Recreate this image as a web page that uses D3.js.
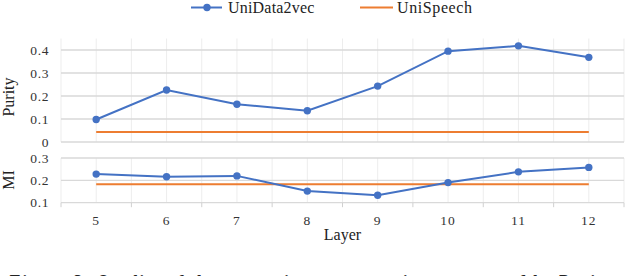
<!DOCTYPE html>
<html><head><meta charset="utf-8">
<script src="https://cdn.jsdelivr.net/npm/d3@7"></script>
<style>html,body{margin:0;padding:0;background:#fff;overflow:hidden}</style>
</head><body>
<svg id="c" width="628" height="276"></svg>
<script>
const layers = [5, 6, 7, 8, 9, 10, 11, 12];
const purityUniData2vec = [0.098, 0.226, 0.164, 0.136, 0.243, 0.395, 0.418, 0.368];
const purityUniSpeech = 0.043;
const miUniData2vec = [0.228, 0.216, 0.220, 0.152, 0.133, 0.190, 0.238, 0.258];
const miUniSpeech = 0.183;
const purityTicks = [0, 0.1, 0.2, 0.3, 0.4];
const miTicks = [0.1, 0.2, 0.3];
const seriesNames = ["UniData2vec", "UniSpeech"];

const BLUE = "#4472C4", ORANGE = "#ED7D31";
const FONT = "Liberation Serif, Times New Roman, serif";
const svg = d3.select("#c");

const x = d3.scaleBand().domain(layers).range([61, 624]);
const cx = d => x(d) + x.bandwidth() / 2;
const yTop = d3.scaleLinear().domain([0, 0.45]).range([142, 38.5]);
const yBot = d3.scaleLinear().domain([0.1, 0.3]).range([202.7, 158]);

function vgrid(y0, y1) {
  const xs = [];
  layers.forEach(d => { xs.push(x(d)); xs.push(cx(d)); });
  xs.push(x.range()[1]);
  svg.append("g").selectAll("line").data(xs).join("line")
    .attr("x1", d => d).attr("x2", d => d).attr("y1", y0).attr("y2", y1)
    .attr("stroke", "#ededed").attr("stroke-width", 1);
}
function hgrid(scale, ticks) {
  svg.append("g").selectAll("line").data(ticks).join("line")
    .attr("x1", x.range()[0]).attr("x2", x.range()[1])
    .attr("y1", d => scale(d)).attr("y2", d => scale(d))
    .attr("stroke", "#d9d9d9").attr("stroke-width", 1.3);
}
function yLabels(scale, ticks) {
  svg.append("g").selectAll("text").data(ticks).join("text")
    .attr("x", 49).attr("y", d => scale(d) + 4.5)
    .attr("text-anchor", "end").attr("font-family", FONT).attr("font-size", 13.5)
    .attr("letter-spacing", 0.6).attr("fill", "#333")
    .text(d => d3.format("")(d));
}
function series(scale, vals, flat) {
  svg.append("line")
    .attr("x1", cx(layers[0])).attr("x2", cx(layers[layers.length - 1]))
    .attr("y1", scale(flat)).attr("y2", scale(flat))
    .attr("stroke", ORANGE).attr("stroke-width", 2);
  const line = d3.line().x((d, i) => cx(layers[i])).y(d => scale(d));
  svg.append("path").datum(vals).attr("d", line)
    .attr("fill", "none").attr("stroke", BLUE).attr("stroke-width", 2);
  svg.append("g").selectAll("circle").data(vals).join("circle")
    .attr("cx", (d, i) => cx(layers[i])).attr("cy", d => scale(d)).attr("r", 3.7)
    .attr("fill", BLUE);
}

// top panel
vgrid(yTop.range()[1], yTop.range()[0]);
hgrid(yTop, purityTicks);
yLabels(yTop, purityTicks);
series(yTop, purityUniData2vec, purityUniSpeech);

// bottom panel
vgrid(yBot.range()[1], yBot.range()[0]);
hgrid(yBot, miTicks);
yLabels(yBot, miTicks);
const tickXs = layers.map(d => x(d)).concat([x.range()[1]]);
svg.append("g").selectAll("line").data(tickXs).join("line")
  .attr("x1", d => d).attr("x2", d => d).attr("y1", yBot(0.1)).attr("y2", yBot(0.1) + 4.5)
  .attr("stroke", "#d0d0d0").attr("stroke-width", 1);
series(yBot, miUniData2vec, miUniSpeech);

// x tick labels
svg.append("g").selectAll("text").data(layers).join("text")
  .attr("x", d => cx(d)).attr("y", 225).attr("text-anchor", "middle")
  .attr("font-family", FONT).attr("font-size", 13.5).attr("letter-spacing", 1)
  .attr("fill", "#333").text(d => d);

// axis titles
svg.append("text").attr("x", 342.5).attr("y", 240).attr("text-anchor", "middle")
  .attr("font-family", FONT).attr("font-size", 16).attr("fill", "#222").text("Layer");
svg.append("text").attr("transform", "translate(14,97) rotate(-90)").attr("text-anchor", "middle")
  .attr("font-family", FONT).attr("font-size", 16).attr("fill", "#222").text("Purity");
svg.append("text").attr("transform", "translate(14,180) rotate(-90)").attr("text-anchor", "middle")
  .attr("font-family", FONT).attr("font-size", 16).attr("fill", "#222").text("MI");

// legend
const lg = svg.append("g");
lg.append("line").attr("x1", 191).attr("x2", 222).attr("y1", 7.5).attr("y2", 7.5)
  .attr("stroke", BLUE).attr("stroke-width", 2);
lg.append("circle").attr("cx", 207).attr("cy", 7.5).attr("r", 3.7).attr("fill", BLUE);
lg.append("text").attr("x", 228).attr("y", 13).attr("font-family", FONT).attr("font-size", 16)
  .attr("letter-spacing", 0.2).attr("fill", "#222").text(seriesNames[0]);
lg.append("line").attr("x1", 360).attr("x2", 393).attr("y1", 7.5).attr("y2", 7.5)
  .attr("stroke", ORANGE).attr("stroke-width", 2);
lg.append("text").attr("x", 397).attr("y", 13).attr("font-family", FONT).attr("font-size", 16)
  .attr("letter-spacing", 0.6).attr("fill", "#222").text(seriesNames[1]);

// caption (cut off at the bottom edge in the reference)
svg.append("text").attr("x", 8).attr("y", 287.5).attr("font-family", FONT).attr("font-size", 18)
  .attr("font-weight", "bold").attr("font-style", "italic").attr("fill", "#222")
  .attr("textLength", 602).attr("lengthAdjust", "spacing")
  .text("Figure 3: Quality of the semantic representations measured by Purity");
</script>
</body></html>
